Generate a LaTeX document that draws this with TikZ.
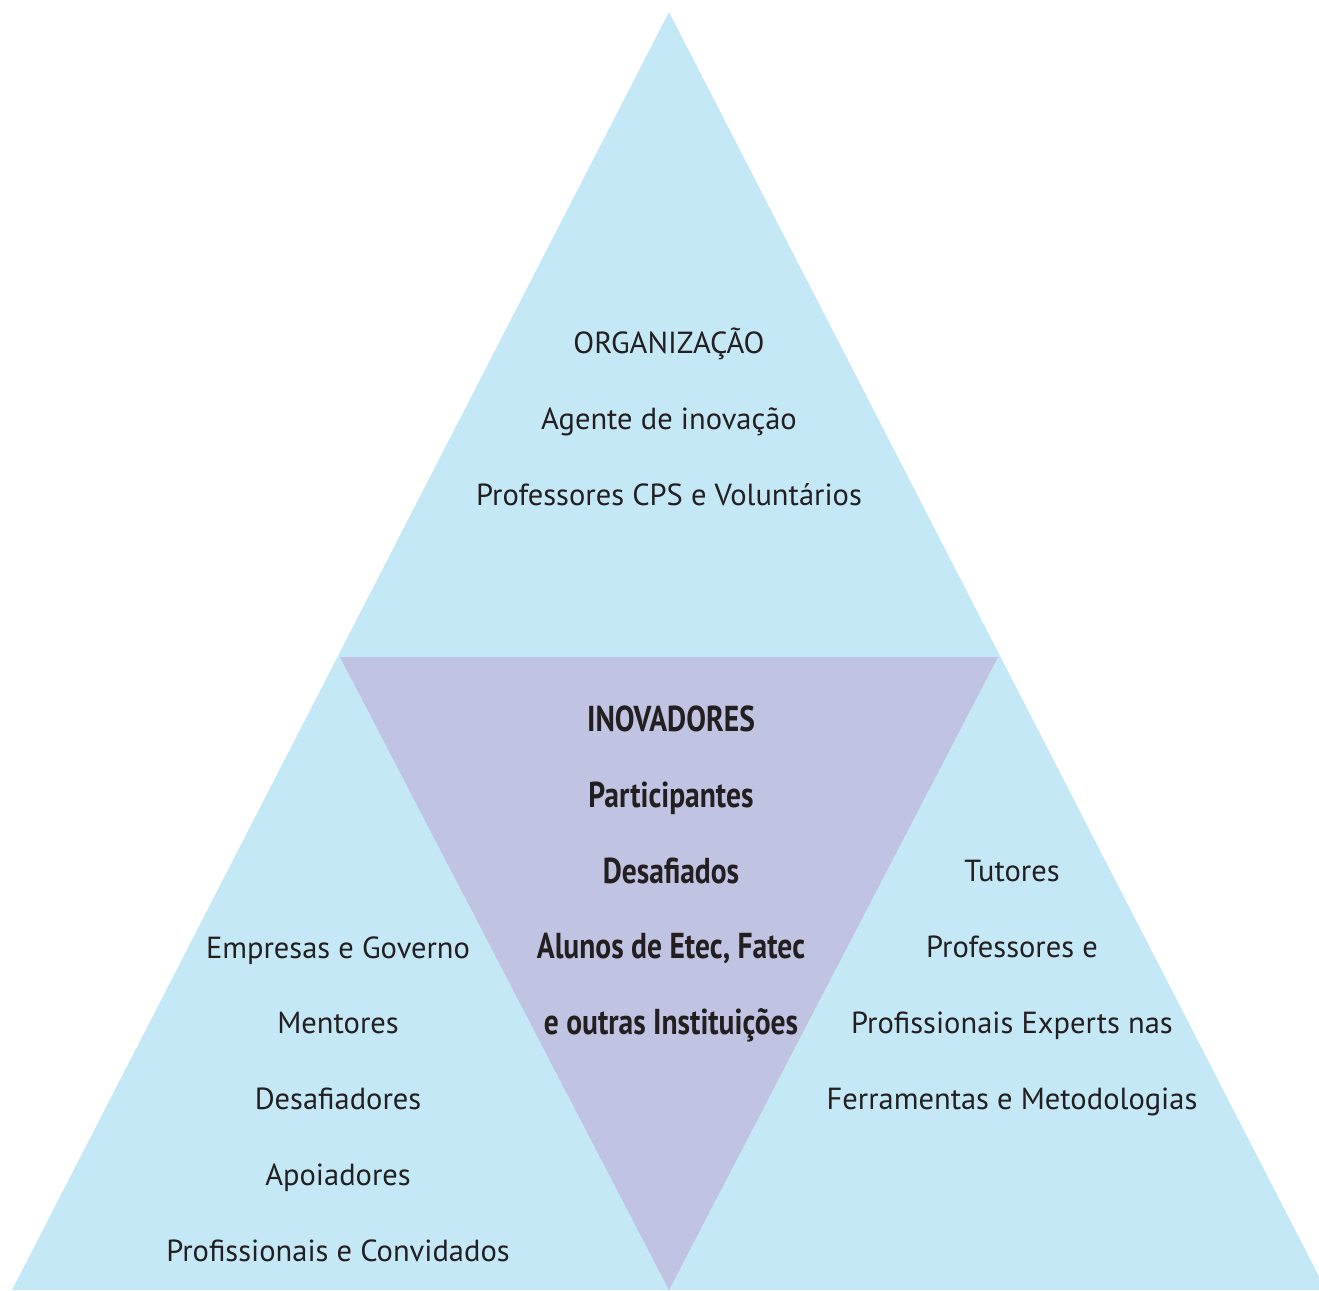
\documentclass[tikz,border=0pt]{standalone}
\usepackage{fontspec}
\setmainfont{PT Sans}
\newfontfamily\condfont[FakeStretch=0.82]{PT Sans}
\usepackage{xcolor}
\usepackage{tikz}
\definecolor{skyblue}{HTML}{C5E8F7}
\definecolor{lavender}{HTML}{C1C3E2}
\definecolor{inkgray}{HTML}{231F20}
\tikzstyle{outer} = [fill=skyblue, draw=none]
\tikzstyle{inner} = [fill=lavender, draw=none]
\tikzstyle{label} = [align=center, text=inkgray, font=\fontsize{30.5}{75.7}\selectfont, inner sep=0pt]
\tikzstyle{boldlabel} = [align=center, text=inkgray, font=\condfont\bfseries\fontsize{36}{75.7}\selectfont, inner sep=0pt]

\begin{document}
\begin{tikzpicture}[x=1pt, y=-1pt]
	\useasboundingbox (0,0) rectangle (1319,1290);
	
	\coordinate (apex) at (669,12);
	\coordinate (bl) at (12,1290);
	\coordinate (br) at (1326,1290);
	\coordinate (ml) at (340,657);
	\coordinate (mr) at (998,657);
	\coordinate (mb) at (669,1290);
	
	\fill [outer] (apex) -- (bl) -- (br) -- cycle;
	\fill [inner] (ml) -- (mr) -- (mb) -- cycle;
	
	\node (org) [label] at (669,417) {ORGANIZAÇÃO\\Agente de inovação\\Professores CPS e Voluntários};
	\node (inov) [boldlabel] at (671,874) {INOVADORES\\Participantes\\Desafiados\\Alunos de Etec, Fatec\\e outras Instituições};
	\node (emp) [label] at (338,1099) {Empresas e Governo\\Mentores\\Desafiadores\\Apoiadores\\Profissionais e Convidados};
	\node (tut) [label] at (1012,988) {Tutores\\Professores e\\Profissionais Experts nas\\Ferramentas e Metodologias};
	
\end{tikzpicture}
\end{document}
